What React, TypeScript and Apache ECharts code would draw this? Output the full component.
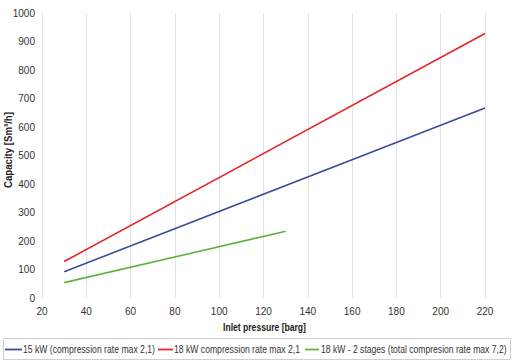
import React, { useEffect, useRef } from "react";
import * as echarts from "echarts";

const seriesNames = [
  "15 kW (compression rate max 2,1)",
  "18 kW compression rate max 2,1",
  "18 kW - 2 stages (total compresion rate max 7,2)",
];
const seriesColors = ["#3b4a9e", "#e2272c", "#5cb43e"];
const blueData: [number, number][] = [
  [30, 92],
  [220, 667],
];
const redData: [number, number][] = [
  [30, 128],
  [220, 928],
];
const greenData: [number, number][] = [
  [30, 54],
  [130, 234],
];
const xName = "Inlet pressure [barg]";
const yName = "Capacity [Sm³/h]";

const FONT = "'Liberation Sans', Arial, sans-serif";

function measure(text: string, font: string): number {
  const c = document.createElement("canvas");
  const ctx = c.getContext("2d");
  if (!ctx) return text.length * 5;
  ctx.font = font;
  return ctx.measureText(text).width;
}

export default function App() {
  const ref = useRef<HTMLDivElement>(null);
  useEffect(() => {
    if (!ref.current) return;
    const chart = echarts.init(ref.current, null, { renderer: "svg" });
    const datas = [blueData, redData, greenData];

    const legendFont = `10.5px ${FONT}`;
    const nameFont = `bold 10.5px ${FONT}`;
    // legend layout: [lineStart, lineEnd, textStart, textEnd]
    const legendSlots = [
      [5, 22, 23, 155],
      [158, 173, 174, 300],
      [305, 319, 321, 507],
    ];
    const legendY = 349.5;
    const graphics: any[] = [
      {
        type: "rect",
        shape: { x: 3.5, y: 338.5, width: 507, height: 21 },
        style: { fill: "none", stroke: "#cfcfcf", lineWidth: 1 },
        silent: true,
      },
    ];
    seriesNames.forEach((n, i) => {
      const [l0, l1, t0, t1] = legendSlots[i];
      graphics.push({
        type: "line",
        shape: { x1: l0, y1: legendY, x2: l1, y2: legendY },
        style: { stroke: seriesColors[i], lineWidth: 1.8 },
        silent: true,
      });
      const w = measure(n, legendFont);
      graphics.push({
        type: "text",
        x: t0,
        y: legendY,
        scaleX: (t1 - t0) / w,
        style: { text: n, font: legendFont, fill: "#333", textAlign: "left", textVerticalAlign: "middle" },
        silent: true,
      });
    });
    const xw = measure(xName, nameFont);
    graphics.push({
      type: "text",
      x: 264.5,
      y: 327,
      scaleX: 83 / xw,
      style: { text: xName, font: nameFont, fill: "#222", textAlign: "center", textVerticalAlign: "middle" },
      silent: true,
    });
    const yw = measure(yName, nameFont);
    graphics.push({
      type: "text",
      x: 8.5,
      y: 150,
      rotation: Math.PI / 2,
      scaleX: 76 / yw,
      style: { text: yName, font: nameFont, fill: "#222", textAlign: "center", textVerticalAlign: "middle" },
      silent: true,
    });

    chart.setOption({
      animation: false,
      textStyle: { fontFamily: FONT },
      grid: { left: 42, right: 39, top: 13, bottom: 63 },
      xAxis: {
        type: "value",
        min: 20,
        max: 220,
        interval: 20,
        axisLine: { show: false },
        axisTick: { show: false },
        axisLabel: { fontSize: 10, color: "#333", margin: 8, fontFamily: FONT },
        splitLine: { show: true, showMinLine: true, showMaxLine: true, lineStyle: { color: "#e2e2e2", width: 1 } },
      },
      yAxis: {
        type: "value",
        min: 0,
        max: 1000,
        interval: 100,
        axisLine: { show: false },
        axisTick: { show: false },
        axisLabel: { fontSize: 10, color: "#333", margin: 7, fontFamily: FONT, formatter: (v: number) => String(v) },
        splitLine: { show: false },
      },
      graphic: graphics,
      series: seriesNames.map((n, i) => ({
        name: n,
        type: "line",
        data: datas[i],
        symbol: "none",
        lineStyle: { color: seriesColors[i], width: 1.6 },
        itemStyle: { color: seriesColors[i] },
      })),
    });
    return () => chart.dispose();
  }, []);
  return <div ref={ref} style={{ width: 524, height: 361, position: "absolute", left: 0, top: 0 }} />;
}
